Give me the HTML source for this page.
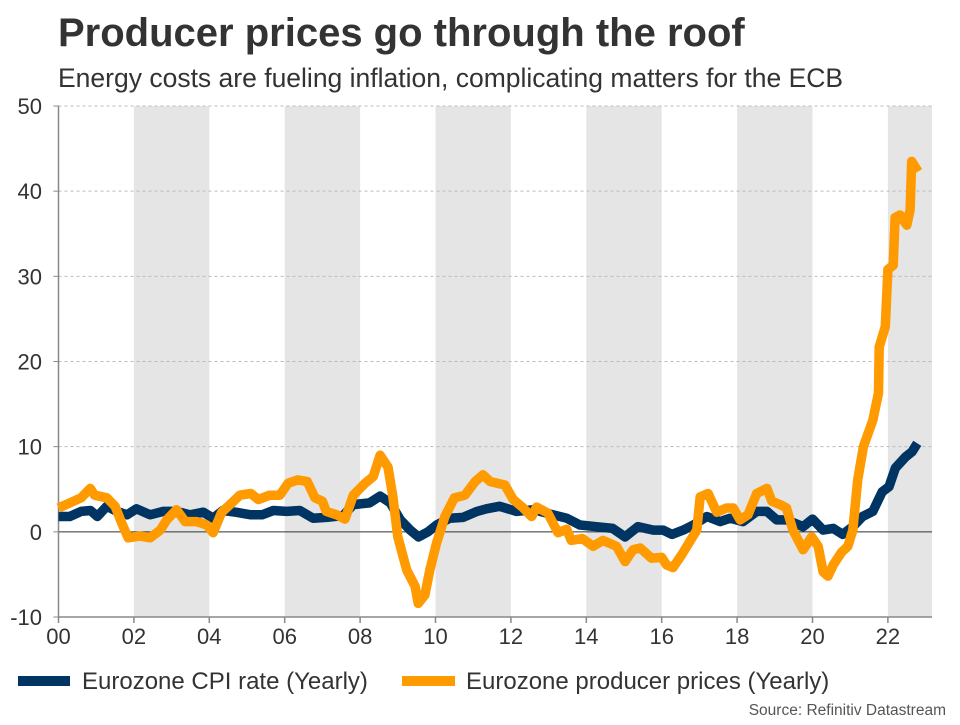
<!DOCTYPE html>
<html><head><meta charset="utf-8"><style>
body{margin:0;background:#fff;width:960px;height:720px;overflow:hidden;font-family:"Liberation Sans",sans-serif}
</style></head><body>
<svg id="chart" width="960" height="720" xmlns="http://www.w3.org/2000/svg" font-family="Liberation Sans, sans-serif">
<text x="58" y="46" font-size="40" font-weight="bold" fill="#333">Producer prices go through the roof</text>
<text x="58" y="87" font-size="26.5" fill="#333">Energy costs are fueling inflation, complicating matters for the ECB</text>
<g id="bands"></g><g id="grid"></g><g id="axes"></g><g id="series"></g>
<g>
<line x1="18" y1="681" x2="70" y2="681" stroke="#003462" stroke-width="10"/>
<text x="82" y="689" font-size="24" fill="#333">Eurozone CPI rate (Yearly)</text>
<line x1="402" y1="681" x2="455" y2="681" stroke="#ff9a00" stroke-width="10"/>
<text x="466" y="689" font-size="24" fill="#333">Eurozone producer prices (Yearly)</text>
</g>
<text x="946" y="715" font-size="15.5" fill="#555" text-anchor="end">Source: Refinitiv Datastream</text>
</svg>
<script>
const yTicks=[-10,0,10,20,30,40,50];
const xTickYears=[0,2,4,6,8,10,12,14,16,18,20,22];
const xTickLabels=["00","02","04","06","08","10","12","14","16","18","20","22"];
const bandStarts=[2,6,10,14,18,22];
const cpiYears=[0,0.3,0.6,0.85,1.03,1.28,1.55,1.82,2.07,2.43,2.78,3.13,3.49,3.84,4.1,4.36,4.7,5.1,5.4,5.7,6.05,6.4,6.75,7.1,7.55,7.82,8.25,8.53,8.8,9.07,9.33,9.55,9.8,10.03,10.38,10.73,11.1,11.35,11.7,12.15,12.6,13.12,13.48,13.83,14.27,14.7,15.03,15.37,15.78,16.04,16.27,16.57,16.84,17.2,17.55,17.81,18.16,18.52,18.79,19.05,19.31,19.75,20.0,20.28,20.55,20.8,21.07,21.33,21.6,21.85,22.03,22.2,22.47,22.64,22.78];
const cpiValues=[1.8,1.8,2.4,2.5,1.8,3.0,2.4,2.0,2.7,2.0,2.4,2.4,2.0,2.3,1.6,2.5,2.3,2.0,2.0,2.5,2.4,2.5,1.6,1.7,1.9,3.2,3.4,4.2,3.4,1.4,0.2,-0.6,0,0.8,1.6,1.7,2.4,2.7,3.0,2.4,2.6,2.0,1.6,0.8,0.6,0.4,-0.6,0.6,0.2,0.2,-0.3,0.2,0.8,1.8,1.2,1.6,1.2,2.4,2.4,1.4,1.4,0.6,1.5,0.2,0.4,-0.3,0.6,1.8,2.4,4.7,5.3,7.5,8.8,9.4,10.4];
const ppiYears=[0,0.3,0.6,0.84,0.96,1.28,1.5,1.68,1.85,2.16,2.43,2.7,2.87,3.13,3.36,3.67,3.93,4.1,4.33,4.6,4.81,5.1,5.3,5.6,5.87,6.09,6.35,6.6,6.8,7.0,7.1,7.38,7.6,7.82,8.13,8.35,8.53,8.74,8.87,9.0,9.24,9.46,9.54,9.72,9.85,10.03,10.25,10.5,10.78,11.05,11.26,11.45,11.84,12.06,12.33,12.55,12.68,12.98,13.25,13.48,13.6,13.9,14.18,14.44,14.8,15.03,15.24,15.43,15.73,16.0,16.13,16.3,16.53,16.75,16.93,17.02,17.23,17.46,17.72,17.9,18.08,18.29,18.52,18.79,18.92,19.14,19.31,19.48,19.75,19.98,20.15,20.28,20.41,20.55,20.77,20.94,21.07,21.2,21.35,21.6,21.75,21.77,21.93,22.0,22.14,22.19,22.32,22.5,22.59,22.63,22.8];
const ppiValues=[2.8,3.4,4.0,5.1,4.3,4.0,3.0,1.0,-0.7,-0.5,-0.7,0.2,1.4,2.6,1.2,1.2,0.8,-0.1,2.3,3.4,4.3,4.5,3.8,4.3,4.3,5.7,6.1,5.9,4.0,3.6,2.4,2.0,1.5,4.3,5.7,6.5,9.0,7.6,4.1,-0.6,-4.5,-6.4,-8.4,-7.4,-4.5,-1.3,1.8,4.0,4.3,5.9,6.7,5.9,5.5,3.8,2.8,1.8,2.9,2.2,-0.1,0.3,-1.0,-0.8,-1.7,-1.0,-1.7,-3.5,-2.1,-1.9,-3.1,-3.0,-3.9,-4.2,-2.7,-1.1,0.2,4.1,4.5,2.3,2.8,2.8,1.4,2.0,4.5,5.1,3.6,3.2,2.8,0.2,-2.1,-0.6,-1.7,-4.7,-5.2,-3.9,-2.4,-1.7,0.2,6.1,10.0,13.1,16.3,21.7,24.1,30.8,31.3,36.9,37.2,36.0,37.8,43.5,42.3];

const NS="http://www.w3.org/2000/svg";
const L=58.5,R=932,T=106,B=617,yMin=-10,yMax=50,xPer=37.7;
const xs=y=>L+y*xPer;
const ys=v=>B-(v-yMin)/(yMax-yMin)*(B-T);
function mk(tag,attrs,parent){const e=document.createElementNS(NS,tag);for(const k in attrs)e.setAttribute(k,attrs[k]);parent.appendChild(e);return e;}
const bands=document.getElementById('bands'),grid=document.getElementById('grid'),axes=document.getElementById('axes'),series=document.getElementById('series');
bandStarts.forEach(s=>{
  const r=mk('rect',{x:xs(s),y:T,width:Math.min(xs(s+2),R)-xs(s),height:B-T,fill:'#e5e5e5'},bands);
  
  
});
yTicks.forEach(v=>{
  if(v!==0&&v!==yMin){
    const g=mk('line',{x1:L,x2:R,y1:ys(v),y2:ys(v),stroke:'#bbb','stroke-dasharray':'3,3','stroke-width':1},grid);
    
    
  }
  const t=mk('text',{x:42,y:ys(v)+8,'font-size':22,fill:'#333','text-anchor':'end'},axes);
  t.textContent=v;
  
  
  const tk=mk('line',{x1:L-5,x2:L,y1:ys(v),y2:ys(v),stroke:'#888'},axes);
  
  
});
const zl=mk('line',{x1:L,x2:R,y1:ys(0),y2:ys(0),stroke:'#333','stroke-width':1},axes);


const ya=mk('line',{x1:L,x2:L,y1:T,y2:B,stroke:'#888','stroke-width':1.5},axes);


const xa=mk('line',{x1:L,x2:R,y1:B,y2:B,stroke:'#888','stroke-width':1.5},axes);


xTickYears.forEach((yr,i)=>{
  const tk=mk('line',{x1:xs(yr),x2:xs(yr),y1:B,y2:B+6,stroke:'#888','stroke-width':1.5},axes);
  
  
  const t=mk('text',{x:xs(yr),y:B+27,'font-size':22,fill:'#333','text-anchor':'middle'},axes);
  t.textContent=xTickLabels[i];
  
  
});
function line(xv,yv,color,name){
  const d=xv.map((x,i)=>(i?'L':'M')+xs(x).toFixed(1)+','+ys(yv[i]).toFixed(1)).join('');
  const p=mk('path',{d:d,fill:'none',stroke:color,'stroke-width':9.5,'stroke-linejoin':'round','stroke-linecap':'butt'},series);
  
  
}
line(cpiYears,cpiValues,'#003462','cpi-line');
line(ppiYears,ppiValues,'#ff9a00','ppi-line');
</script>
</body></html>
